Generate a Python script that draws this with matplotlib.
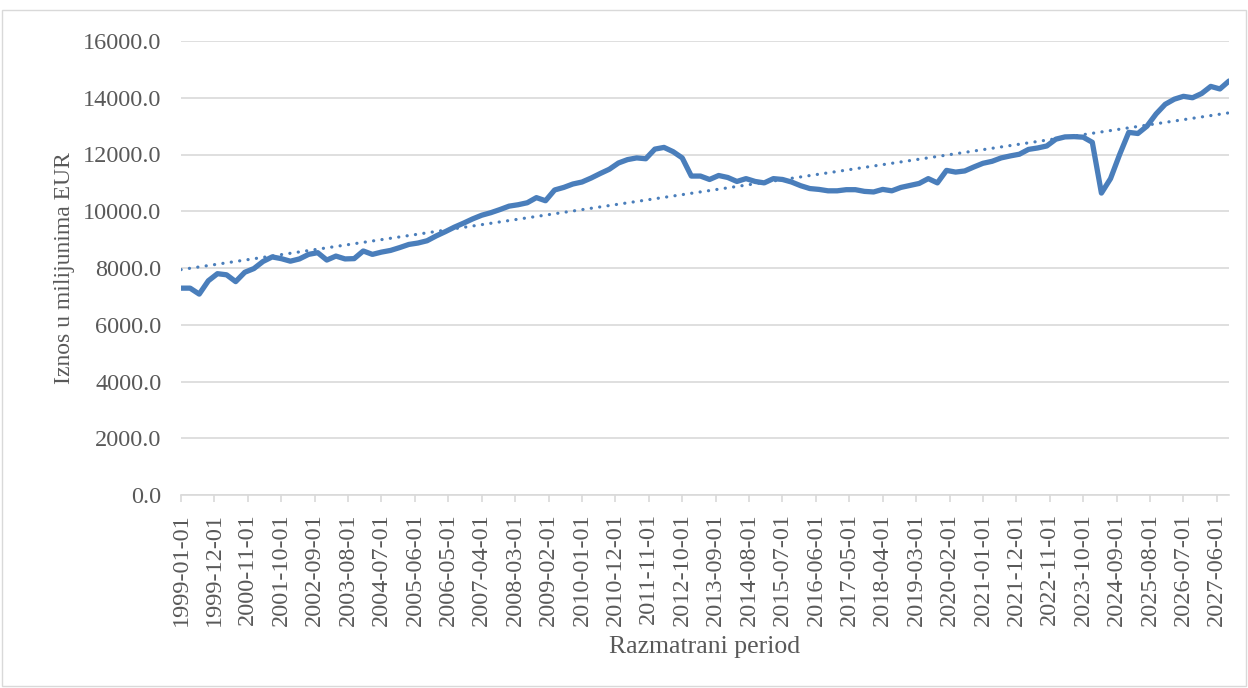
import numpy as np
import pandas as pd
import matplotlib
matplotlib.use("Agg")
import matplotlib.pyplot as plt
from matplotlib.patches import Rectangle

# quarterly values (milijuni EUR), starting 1999-01
values = [7290, 7290, 7080, 7550, 7800, 7760, 7520, 7850, 7980, 8230,
          8390, 8330, 8240, 8320, 8480, 8540, 8280, 8420, 8320,
          8330, 8600, 8480, 8560, 8620, 8720, 8830, 8880, 8960, 9130,
          9280, 9440, 9580, 9730, 9860, 9950, 10060, 10180, 10230, 10300,
          10480, 10370, 10750, 10840, 10960, 11030, 11170, 11330, 11480,
          11700, 11820, 11880, 11850, 12190, 12250, 12100, 11880,
          11240,
          11240, 11120, 11260, 11190, 11050, 11150, 11050, 11000, 11150,
          11120, 11030, 10900, 10800, 10770, 10720, 10720, 10760, 10760, 10700,
          10680, 10770, 10720, 10840, 10910, 10980, 11150, 11000, 11440,
          11380, 11420, 11560, 11690, 11760, 11880, 11950, 12010, 12180, 12230,
          12300, 12540, 12620, 12630, 12610, 12430, 10640, 11150, 12000,
          12780, 12740, 13000, 13430, 13770, 13950, 14050, 14000, 14150,
          14400, 14310, 14590]

months = pd.date_range("1999-01-01", periods=346, freq="MS")
tick_step = 11
tick_labels = [d.strftime("%Y-%m-%d") for d in months[::tick_step]]
y_ticks = [0, 2000, 4000, 6000, 8000, 10000, 12000, 14000, 16000]

line_color = "#4a7ebb"
grid_color = "#d9d9d9"
text_color = "#595959"

plt.rcParams["font.family"] = ["Liberation Serif", "DejaVu Serif"]

fig = plt.figure(figsize=(12.48, 6.88), dpi=100)
fig.patches.append(Rectangle((0.002, 0.003), 0.996, 0.982, transform=fig.transFigure,
                             fill=False, edgecolor=grid_color, linewidth=1))

ax = fig.add_axes([181 / 1248, (688 - 495) / 688, (1229 - 181) / 1248, (495 - 41) / 688])

x = np.arange(len(values)) * 3
ax.plot(x, values, color=line_color, linewidth=3.8, solid_joinstyle="round",
        solid_capstyle="round", zorder=3)

# linear trend line
k, n = np.polyfit(x, values, 1)
ax.plot(x, k * x + n, color=line_color, linewidth=2.3,
        linestyle=(0, (0.05, 2.6)), dash_capstyle="round", zorder=2)

ax.set_xlim(0, len(months) - 1)
ax.set_ylim(0, 16000)
ax.set_yticks(y_ticks)
ax.set_yticklabels([f"{v:.1f}" for v in y_ticks])
ax.set_xticks(np.arange(len(months))[::tick_step])
ax.set_xticklabels(tick_labels, rotation=90)

ax.grid(axis="y", color=grid_color, linewidth=1.2)
ax.set_axisbelow(True)
for s in ["left", "right", "top"]:
    ax.spines[s].set_visible(False)
ax.spines["bottom"].set_color(grid_color)
ax.spines["bottom"].set_linewidth(1.2)

ax.tick_params(axis="y", length=0, pad=14, labelsize=17.5, labelcolor=text_color)
ax.tick_params(axis="x", length=5, width=1.2, color=grid_color, pad=8,
               labelsize=17.5, labelcolor=text_color)

ax.set_ylabel("Iznos u milijunima EUR", fontsize=17, color=text_color, labelpad=6)
ax.set_xlabel("Razmatrani period", fontsize=18.5, color=text_color)
ax.xaxis.set_label_coords(0.5, (495 - 636) / 454)

fig.savefig("out.png", dpi=100)
